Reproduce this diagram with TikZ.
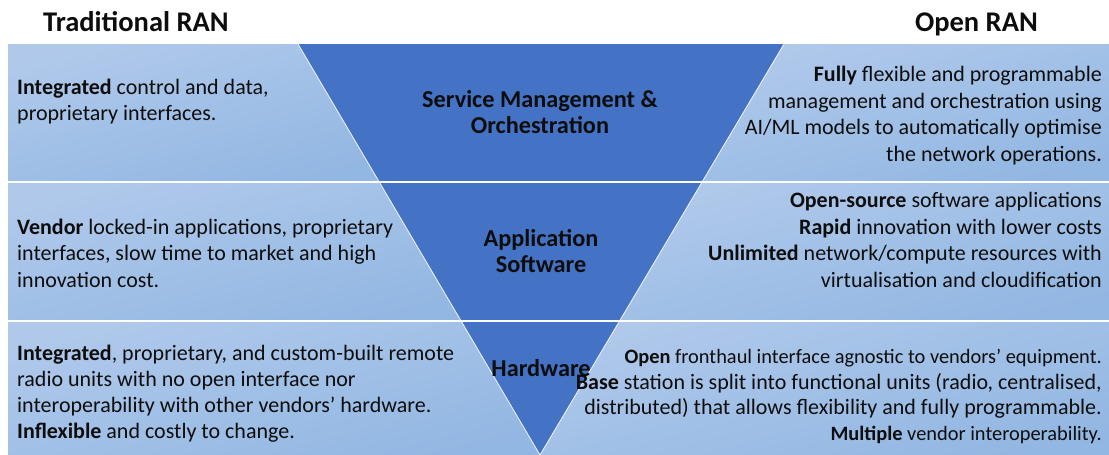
\documentclass[tikz,border=0pt]{standalone}
\usepackage{fontspec}
\setmainfont{Carlito}
\usetikzlibrary{calc}
\definecolor{panelTop}{RGB}{176,201,235}
\definecolor{panelBot}{RGB}{146,183,226}
\definecolor{coreBlue}{RGB}{68,114,196}
\definecolor{ink}{RGB}{13,13,13}
% strut that fixes the height of a first line, so its baseline sits 20pt below the node top
\newcommand\leadstrut{\rule{0pt}{20pt}}
% slightly smaller type for some lines of the hardware description
\newcommand\smallline[1]{{\fontsize{20.4}{25.8}\selectfont #1}}
\begin{document}
\begin{tikzpicture}[x=1pt,y=-1pt,
  panel/.style={top color=panelTop,bottom color=panelBot,shading angle=15},
  core/.style={fill=coreBlue},
  slant/.style={draw=white,line width=0.9pt,draw opacity=0.85},
  divider/.style={draw=white,line width=2pt},
  body/.style={font=\fontsize{22}{26.5}\selectfont,text=ink,inner sep=0pt},
  lefttext/.style={body,align=left,anchor=north west},
  righttext/.style={body,align=right,anchor=north east},
  layer/.style={font=\bfseries\fontsize{24.3}{26.5}\selectfont,text=ink,align=center,inner sep=0pt,anchor=north},
  heading/.style={font=\bfseries\fontsize{28.5}{34}\selectfont,text=ink,inner sep=0pt}
]
\useasboundingbox (0,0) rectangle (1109,455);

% corners of the inverted triangle and its crossings with the row borders
\coordinate (tl) at (298,44);
\coordinate (tr) at (784,44);
\coordinate (apex) at (540,455);
\coordinate (l1) at ($(tl)!0.33577!(apex)$);
\coordinate (l2) at ($(tl)!0.67397!(apex)$);
\coordinate (r1) at ($(tr)!0.33577!(apex)$);
\coordinate (r2) at ($(tr)!0.67397!(apex)$);

% light side panels, one per row and side
\shade[panel] (8,44) -- (tl) -- (l1) -- (8,182) -- cycle;
\shade[panel] (tr) -- (1109,44) -- (1109,182) -- (r1) -- cycle;
\shade[panel] (8,182) -- (l1) -- (l2) -- (8,321) -- cycle;
\shade[panel] (r1) -- (1109,182) -- (1109,321) -- (r2) -- cycle;
\shade[panel] (8,321) -- (l2) -- (apex) -- (8,455) -- cycle;
\shade[panel] (r2) -- (1109,321) -- (1109,455) -- (apex) -- cycle;

% the layered core
\fill[core] (tl) -- (tr) -- (apex) -- cycle;
\draw[slant] (tl) -- (apex);
\draw[slant] (tr) -- (apex);
\draw[divider] (8,182) -- (1109,182);
\draw[divider] (8,321) -- (1109,321);

% column headings
\node[heading,anchor=base west] (tradTitle) at (43,31) {Traditional RAN};
\node[heading,anchor=base east] (openTitle) at (1038,31) {Open RAN};

% layer names
\node[layer] (smo) at (540,87) {\leadstrut Service Management \&\\Orchestration};
\node[layer] (apps) at (541,226) {\leadstrut Application\\Software};
\node[layer] (hw) at (541,356) {\leadstrut Hardware};

% traditional RAN descriptions
\node[lefttext] (tradSmo) at (17,74) {\leadstrut\textbf{Integrated} control and data,\\proprietary interfaces.};
\node[lefttext] (tradApps) at (17,214) {\leadstrut\textbf{Vendor} locked-in applications, proprietary\\interfaces, slow time to market and high\\innovation cost.};
\node[lefttext,font=\fontsize{22}{26}\selectfont] (tradHw) at (17,340) {\leadstrut\textbf{Integrated}, proprietary, and custom-built remote\\radio units with no open interface nor\\interoperability with other vendors’ hardware.\\\textbf{Inflexible} and costly to change.};

% open RAN descriptions
\node[righttext] (openSmo) at (1102,61.5) {\leadstrut\textbf{Fully} flexible and programmable\\management and orchestration using\\AI/ML models to automatically optimise\\the network operations.};
\node[righttext] (openApps) at (1102,187.5) {\leadstrut\textbf{Open-source} software applications\\\textbf{Rapid} innovation with lower costs\\\textbf{Unlimited} network/compute resources with\\virtualisation and cloudification};
\node[righttext,font=\fontsize{22}{25.8}\selectfont] (openHw) at (1102,343) {\leadstrut\smallline{\textbf{Open} fronthaul interface agnostic to vendors’ equipment.}\\\textbf{Base} station is split into functional units (radio, centralised,\\distributed) that allows flexibility and fully programmable.\\\smallline{\textbf{Multiple} vendor interoperability.}};
\end{tikzpicture}
\end{document}
